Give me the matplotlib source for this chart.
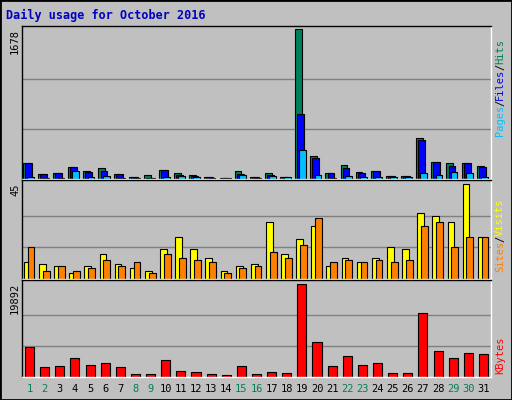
import matplotlib
matplotlib.use("Agg")
import matplotlib.pyplot as plt
import numpy as np

days = list(range(1, 32))
hits = [183,53,69,137,92,126,57,23,46,103,69,46,23,11,92,23,69,23,1678,252,69,160,80,92,34,34,458,195,183,183,149]
files = [183,53,69,134,80,92,57,23,11,103,46,34,23,11,57,23,46,23,729,240,69,126,69,92,34,34,435,195,149,183,137]
pages = [23,11,11,92,23,34,11,11,11,23,34,23,11,11,46,11,34,23,328,46,11,34,23,23,23,23,69,46,80,69,23]
visits = [8,7,6,3,6,12,7,5,4,14,20,14,10,4,6,7,27,12,19,25,6,10,8,10,15,14,31,30,27,45,20]
sites = [15,4,6,4,5,9,6,8,3,12,10,9,8,3,5,6,13,10,16,29,8,9,8,9,8,9,25,27,15,20,20]
kbytes = [6500,2160,2380,4100,2600,3000,2160,650,650,3600,1300,1080,650,430,2380,650,1080,860,19892,7500,2380,4500,2600,3000,860,860,13600,5600,4100,5200,4900]
weekend = {1,2,8,9,15,16,22,23,29,30}

W, H = 512, 400
fig = plt.figure(figsize=(W/100, H/100), dpi=100, facecolor="#c0c0c0")
mono = "DejaVu Sans Mono"

def ax_px(x0, y0, x1, y1):
    a = fig.add_axes([x0/W, 1-y1/H, (x1-x0)/W, (y1-y0)/H])
    a.set_facecolor("#c0c0c0")
    a.set_xlim(0.5, 31.5)
    a.set_xticks([]); a.set_yticks([])
    for s in a.spines.values():
        s.set_color("black"); s.set_linewidth(1)
    a.spines["right"].set_color("white"); a.spines["bottom"].set_color("white")
    return a

x = np.array(days, dtype=float)
ec = dict(edgecolor="black", linewidth=0.8)

a1 = ax_px(22, 26, 491, 179)
mx = max(hits)
a1.set_ylim(0, mx*1.02)
for g in (mx/3, 2*mx/3):
    a1.axhline(g, color="#808080", lw=1, zorder=0)
a1.bar(x-0.22, hits, width=0.45, color="#00805c", **ec)
a1.bar(x-0.08, files, width=0.45, color="#0000ff", **ec)
a1.bar(x+0.06, pages, width=0.45, color="#00c0ff", **ec)

a2 = ax_px(22, 180, 491, 279)
mv = max(visits)
a2.set_ylim(0, mv*1.04)
for g in (mv/3, 2*mv/3):
    a2.axhline(g, color="#808080", lw=1, zorder=0)
a2.bar(x-0.15, visits, width=0.45, color="#ffff00", **ec)
a2.bar(x+0.1, sites, width=0.45, color="#ff8000", **ec)

a3 = ax_px(22, 280, 491, 377)
mk = max(kbytes)
a3.set_ylim(0, mk*1.04)
for g in (mk/3, 2*mk/3):
    a3.axhline(g, color="#808080", lw=1, zorder=0)
a3.bar(x, kbytes, width=0.6, color="#ff0000", **ec)

for d in days:
    xf = (22 + (d-0.5)/31*469)/W
    fig.text(xf, 1-389/H, str(d), ha="center", va="center", fontsize=7.5,
             family=mono, color="#00805c" if d in weekend else "black")

fig.text(6/W, 1-15/H, "Daily usage for October 2016", fontsize=8.5, weight="bold",
         family=mono, color="#0000c0", va="center")
for yy, t in ((26, str(mx)), (180, str(mv)), (280, str(mk))):
    fig.text(15/W, 1-(yy+3)/H, t, rotation=90, ha="center", va="top", fontsize=7.5, family=mono)

def rlabel(ybot, parts):
    y = ybot
    for t, c in parts:
        fig.text(500/W, 1-y/H, t, rotation=90, ha="center", va="bottom", fontsize=7.5,
                 family=mono, color=c)
        y -= len(t)*6.0
rlabel(136, [("Pages", "#00c0ff"), ("/", "black"), ("Files", "#0000ff"), ("/", "black"), ("Hits", "#00805c")])
rlabel(272, [("Sites", "#ff8000"), ("/", "black"), ("Visits", "#ffff00")])
rlabel(374, [("KBytes", "#ff0000")])

fig.patches.append(plt.Rectangle((0, 0), 1, 1, transform=fig.transFigure, fill=False,
                                 edgecolor="black", lw=2))
fig.savefig("out.png", dpi=100, facecolor=fig.get_facecolor())
